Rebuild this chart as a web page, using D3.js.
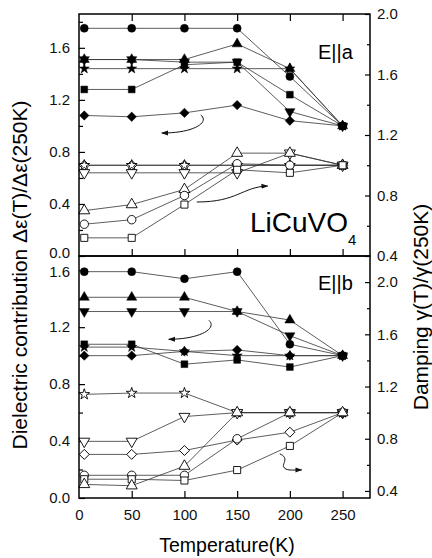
<!DOCTYPE html>
<html>
<head>
<meta charset="utf-8">
<script src="https://cdn.jsdelivr.net/npm/d3@7"></script>
<style>
  body { margin: 0; background: #fff; }
  svg { display: block; font-family: "Liberation Sans", Arial, sans-serif; }
</style>
</head>
<body>
<svg id="chart"></svg>
<script>
// temperatures (K)
const temps = [5, 50, 100, 150, 200, 250];

// E||a : dielectric contribution (left axis, filled)
const aEpsCircle   = [1.75, 1.75, 1.75, 1.75, 1.38, 1.0];
const aEpsTriUp    = [1.51, 1.51, 1.51, 1.63, 1.44, 1.0];
const aEpsTriDown  = [1.51, 1.51, 1.49, 1.49, 1.11, 1.0];
const aEpsStar     = [1.44, 1.44, 1.44, 1.44, 1.44, 1.0];
const aEpsSquare   = [1.28, 1.28, 1.47, 1.49, 1.24, 1.0];
const aEpsDiamond  = [1.08, 1.07, 1.10, 1.16, 1.04, 1.0];

// E||a : damping (right axis, open)
const aGamDiamond  = [1.0, 1.0, 1.0, 1.0, 1.0, 1.0];
const aGamStar     = [1.0, 1.0, 1.0, 1.0, 1.0, 1.0];
const aGamTriDown  = [0.95, 0.95, 0.95, 0.95, 1.08, 1.0];
const aGamTriUp    = [0.70, 0.74, 0.84, 1.08, 1.08, 1.0];
const aGamCircle   = [0.61, 0.64, 0.80, 1.01, 1.0, 1.0];
const aGamSquare   = [0.52, 0.52, 0.74, 0.97, 0.95, 1.0];

// E||b : dielectric contribution (left axis, filled)
const bEpsCircle   = [1.59, 1.59, 1.54, 1.59, 1.08, 1.0];
const bEpsTriUp    = [1.41, 1.41, 1.41, 1.31, 1.25, 1.0];
const bEpsTriDown  = [1.31, 1.31, 1.31, 1.31, 1.14, 1.0];
const bEpsSquare   = [1.08, 1.08, 0.94, 0.97, 0.92, 1.0];
const bEpsStar     = [1.06, 1.06, 1.03, 1.00, 1.0, 1.0];
const bEpsDiamond  = [1.0, 1.0, 1.03, 1.04, 1.0, 1.0];

// E||b : damping (right axis, open)
const bGamStar     = [1.14, 1.15, 1.15, 1.0, 1.0, 1.0];
const bGamTriDown  = [0.78, 0.78, 0.97, 1.0, 1.0, 1.0];
const bGamDiamond  = [0.68, 0.68, 0.71, 0.79, 0.85, 1.0];
const bGamCircle   = [0.52, 0.52, 0.52, 0.80, 1.0, 1.0];
const bGamSquare   = [0.49, 0.49, 0.48, 0.56, 0.745, 1.0];
const bGamTriUp    = [0.45, 0.44, 0.59, 1.0, 1.0, 1.0];

const xTicks = [0, 50, 100, 150, 200, 250];
const epsTicks = [0, 0.4, 0.8, 1.2, 1.6];
const gamTicks = [0.4, 0.8, 1.2, 1.6, 2.0];

const width = 432, height = 558;
const left = 79, right = 370;

const svg = d3.select('#chart').attr('width', width).attr('height', height);

const x = d3.scaleLinear().domain([0, 276]).range([left, right]);

const panels = [
  { name: 'a', top: 14, bottom: 256, eps: [0, 1.86], gam: [0.4, 2.0],
    epsMinor: [0.2, 0.6, 1.0, 1.4, 1.8], gamMinor: [0.6, 1.0, 1.4, 1.8],
    series: [
      ['eps', 'circle', aEpsCircle], ['eps', 'triUp', aEpsTriUp], ['eps', 'triDown', aEpsTriDown],
      ['eps', 'star', aEpsStar], ['eps', 'square', aEpsSquare], ['eps', 'diamond', aEpsDiamond],
      ['gam', 'diamond', aGamDiamond], ['gam', 'star', aGamStar], ['gam', 'triDown', aGamTriDown],
      ['gam', 'triUp', aGamTriUp], ['gam', 'circle', aGamCircle], ['gam', 'square', aGamSquare]
    ],
    arrows: [
      { axis: 'eps', pts: [[115.5, 1.084], [124, 1.03], [109.8, 0.945], [78.5, 0.945]] },
      { axis: 'gam', pts: [[111.7, 0.757], [150.6, 0.757], [154.4, 0.856], [179, 0.863]] }
    ]
  },
  { name: 'b', top: 256, bottom: 498, eps: [0, 1.70], gam: [0.346, 2.2],
    epsMinor: [0.2, 0.6, 1.0, 1.4], gamMinor: [0.6, 1.0, 1.4, 1.8],
    series: [
      ['eps', 'circle', bEpsCircle], ['eps', 'triUp', bEpsTriUp], ['eps', 'triDown', bEpsTriDown],
      ['eps', 'square', bEpsSquare], ['eps', 'star', bEpsStar], ['eps', 'diamond', bEpsDiamond],
      ['gam', 'star', bGamStar], ['gam', 'triDown', bGamTriDown], ['gam', 'diamond', bGamDiamond],
      ['gam', 'circle', bGamCircle], ['gam', 'square', bGamSquare], ['gam', 'triUp', bGamTriUp]
    ],
    arrows: [
      { axis: 'eps', pts: [[123.2, 1.248], [131.6, 1.192], [114.5, 1.115], [85.1, 1.115]] },
      { axis: 'gam', pts: [[190.4, 0.684], [199.9, 0.653], [192.3, 0.607], [194.2, 0.584],
                           [196.1, 0.553], [201.8, 0.561], [211.3, 0.561]] }
    ]
  }
];

// symbol sizes: [filled, open]
const shapes = {
  circle:  { type: d3.symbolCircle, size: [50, 56], rot: 0 },
  square:  { type: d3.symbolSquare, size: [46, 50], rot: 0 },
  diamond: { type: d3.symbolSquare, size: [44, 50], rot: 45 },
  triUp:   { type: d3.symbolTriangle, size: [44, 52], rot: 0 },
  triDown: { type: d3.symbolTriangle, size: [44, 52], rot: 180 },
  star:    { type: d3.symbolStar, size: [32, 36], rot: 0 }
};

svg.append('defs').append('marker')
  .attr('id', 'head')
  .attr('viewBox', '0 0 10 10')
  .attr('refX', 9).attr('refY', 5)
  .attr('markerWidth', 7).attr('markerHeight', 7)
  .attr('markerUnits', 'userSpaceOnUse')
  .attr('orient', 'auto')
  .append('path')
  .attr('d', 'M0,1.5 L10,5 L0,8.5 Z')
  .attr('fill', '#111');

panels.forEach(p => {
  const yEps = d3.scaleLinear().domain(p.eps).range([p.bottom, p.top]);
  const yGam = d3.scaleLinear().domain(p.gam).range([p.bottom, p.top]);
  const yFor = a => (a === 'eps' ? yEps : yGam);
  const g = svg.append('g');

  // axes with inward ticks
  const fmt = d3.format('.1f');
  const addAxis = (axis, tx, ty) => {
    const sel = g.append('g').attr('transform', `translate(${tx},${ty})`).call(axis);
    sel.select('.domain').remove();
    sel.selectAll('line').attr('stroke', '#000').attr('stroke-width', 1.2);
    sel.selectAll('text').attr('fill', '#111').style('font-size', '15px');
    return sel;
  };
  const leftAx = addAxis(d3.axisLeft(yEps).tickValues(epsTicks).tickFormat(fmt).tickSize(-6).tickPadding(9), left, 0);
  // keep the "0.0" of the upper panel and the "1.6" of the lower one apart
  if (p.name === 'a') leftAx.selectAll('text').filter(d => d === 0).attr('dy', '0.12em');
  else leftAx.selectAll('text').filter(d => d === 1.6).attr('dy', '0.42em');
  addAxis(d3.axisLeft(yEps).tickValues(p.epsMinor).tickFormat('').tickSize(-4), left, 0);
  addAxis(d3.axisRight(yGam).tickValues(gamTicks).tickFormat(fmt).tickSize(-5).tickPadding(7), right, 0);
  addAxis(d3.axisRight(yGam).tickValues(p.gamMinor).tickFormat('').tickSize(-3), right, 0);
  addAxis(d3.axisBottom(x).tickValues(xTicks.slice(1)).tickFormat('').tickSize(-7), 0, p.bottom);
  if (p.name === 'a') {
    addAxis(d3.axisTop(x).tickValues(xTicks.slice(1)).tickFormat('').tickSize(-7), 0, p.top);
  } else {
    addAxis(d3.axisBottom(x).tickValues(xTicks).tickFormat(d3.format('d')).tickSize(0).tickPadding(11), 0, p.bottom);
  }

  // connecting lines
  p.series.forEach(([axis, shape, vals]) => {
    const y = yFor(axis);
    const line = d3.line().x((d, i) => x(temps[i])).y(d => y(d));
    g.append('path')
      .attr('d', line(vals))
      .attr('fill', 'none')
      .attr('stroke', '#333')
      .attr('stroke-width', 0.8);
  });

  // symbols: open first, filled on top
  const ordered = p.series.filter(s => s[0] === 'gam').concat(p.series.filter(s => s[0] === 'eps'));
  ordered.forEach(([axis, shape, vals]) => {
    const y = yFor(axis);
    const s = shapes[shape];
    const open = axis === 'gam';
    g.selectAll(null)
      .data(vals)
      .enter().append('path')
      .attr('transform', (d, i) => `translate(${x(temps[i])},${y(d)}) rotate(${s.rot})`)
      .attr('d', d3.symbol().type(s.type).size(open ? s.size[1] : s.size[0]))
      .attr('fill', open ? '#fff' : '#000')
      .attr('stroke', '#000')
      .attr('stroke-width', open ? 0.9 : 0.5);
  });

  // curved arrows telling which axis a set belongs to
  p.arrows.forEach(a => {
    const y = yFor(a.axis);
    const pts = a.pts.map(d => [x(d[0]), y(d[1])]);
    let d = `M${pts[0]}`;
    for (let i = 1; i + 2 < pts.length; i += 3) d += ` C${pts[i]} ${pts[i + 1]} ${pts[i + 2]}`;
    g.append('path')
      .attr('d', d)
      .attr('fill', 'none')
      .attr('stroke', '#111')
      .attr('stroke-width', 1)
      .attr('marker-end', 'url(#head)');
  });

  // frame
  g.append('rect')
    .attr('x', left).attr('y', p.top)
    .attr('width', right - left).attr('height', p.bottom - p.top)
    .attr('fill', 'none')
    .attr('stroke', '#000')
    .attr('stroke-width', 1.5);
});

// panel labels
svg.append('text').attr('x', 318).attr('y', 59).style('font-size', '20px').text('E||a');
svg.append('text').attr('x', 318).attr('y', 290).style('font-size', '20px').text('E||b');
const lbl = svg.append('text').attr('x', 250).attr('y', 232).style('font-size', '28px');
lbl.append('tspan').text('LiCuVO');
lbl.append('tspan').attr('dy', 13).style('font-size', '15px').text('4');

// axis titles
svg.append('text')
  .attr('transform', 'translate(227,552)')
  .attr('text-anchor', 'middle')
  .style('font-size', '19.5px')
  .text('Temperature(K)');

svg.append('text')
  .attr('transform', 'translate(27,275) rotate(-90)')
  .attr('text-anchor', 'middle')
  .style('font-size', '21px')
  .text('Dielectric contribution Δε(T)/Δε(250K)');

svg.append('text')
  .attr('transform', 'translate(428,307) rotate(-90)')
  .attr('text-anchor', 'middle')
  .style('font-size', '21px')
  .text('Damping γ(T)/γ(250K)');
</script>
</body>
</html>
